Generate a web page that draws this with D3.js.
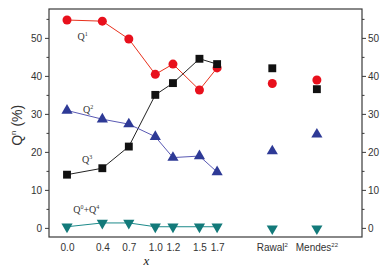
<!DOCTYPE html>
<html>
<head>
<meta charset="utf-8">
<script src="https://cdn.jsdelivr.net/npm/d3@7"></script>
<style>
  body { margin: 0; background: #fff; }
  svg { display: block; font-family: 'Liberation Sans', Arial, sans-serif; }
</style>
</head>
<body>
<div id="chart"></div>
<script>
// composition x values (lines) and literature references (separate points)
const xValues = [0.0, 0.4, 0.7, 1.0, 1.2, 1.5, 1.7];
const refNames = ['Rawal', 'Mendes'];
const refSup = ['2', '22'];
const refX = [2.325, 2.83];

// Q^n fractions (%)
const q1 = [54.7, 54.4, 49.7, 40.4, 43.1, 36.3, 42.1];
const q2 = [30.9, 28.6, 27.3, 24.0, 18.5, 18.9, 14.7];
const q3 = [14.0, 15.7, 21.4, 35.0, 38.1, 44.5, 43.1];
const q04 = [0.3, 1.3, 1.3, 0.3, 0.3, 0.3, 0.3];

const q1Ref = [38.0, 38.9];
const q2Ref = [20.2, 24.6];
const q3Ref = [42.0, 36.5];
const q04Ref = [-0.2, -0.2];

const yTicks = [0, 10, 20, 30, 40, 50];
const yMinor = [5, 15, 25, 35, 45, 55];

const W = 385, H = 273;
const margin = { top: 9, right: 23, bottom: 36, left: 49 };

const svg = d3.select('#chart').append('svg')
  .attr('width', W)
  .attr('height', H);

const x = d3.scaleLinear()
  .domain([-0.204, 3.341])
  .range([margin.left, W - margin.right]);

const y = d3.scaleLinear()
  .domain([-2.4, 57.6])
  .range([H - margin.bottom, margin.top]);

const axisColor = '#3a3a3a';

// frame
svg.append('rect')
  .attr('x', margin.left)
  .attr('y', margin.top)
  .attr('width', W - margin.left - margin.right)
  .attr('height', H - margin.top - margin.bottom)
  .attr('fill', 'none')
  .attr('stroke', axisColor)
  .attr('stroke-width', 1.2);

function styleAxis(g) {
  g.select('.domain').remove();
  g.selectAll('line').attr('stroke', axisColor);
  g.selectAll('text')
    .attr('fill', '#333')
    .style('font-size', '10px');
}

// left axis
svg.append('g')
  .attr('transform', `translate(${margin.left},0)`)
  .call(d3.axisLeft(y).tickValues(yTicks).tickSize(4).tickPadding(3))
  .call(styleAxis);
svg.append('g')
  .attr('transform', `translate(${margin.left},0)`)
  .call(d3.axisLeft(y).tickValues(yMinor).tickSize(2.5).tickFormat(''))
  .call(styleAxis);

// right axis
svg.append('g')
  .attr('transform', `translate(${W - margin.right},0)`)
  .call(d3.axisRight(y).tickValues(yTicks).tickSize(4).tickPadding(2))
  .call(styleAxis);
svg.append('g')
  .attr('transform', `translate(${W - margin.right},0)`)
  .call(d3.axisRight(y).tickValues(yMinor).tickSize(2.5).tickFormat(''))
  .call(styleAxis);

// bottom axis (labels only)
svg.append('g')
  .attr('transform', `translate(0,${H - margin.bottom})`)
  .call(d3.axisBottom(x).tickValues(xValues).tickSize(0).tickPadding(7)
    .tickFormat(d3.format('.1f')))
  .call(styleAxis);

// reference labels with superscripts
const refG = svg.append('g')
  .attr('transform', `translate(0,${H - margin.bottom})`);
refNames.forEach((name, i) => {
  const t = refG.append('text')
    .attr('x', x(refX[i]))
    .attr('y', 14)
    .attr('text-anchor', 'middle')
    .attr('fill', '#333')
    .style('font-size', '10px');
  t.append('tspan').text(name);
  t.append('tspan')
    .attr('dy', -4)
    .style('font-size', '6px')
    .text(refSup[i]);
});

// axis titles
svg.append('text')
  .attr('x', x(0.9))
  .attr('y', 265)
  .attr('text-anchor', 'middle')
  .style('font-family', "'Liberation Serif', 'Times New Roman', serif")
  .style('font-style', 'italic')
  .style('font-size', '13px')
  .attr('fill', '#222')
  .text('x');

const yt = svg.append('text')
  .attr('transform', `translate(22,${y(27)}) rotate(-90)`)
  .attr('text-anchor', 'middle')
  .attr('fill', '#333')
  .style('font-size', '14px');
yt.append('tspan').text('Q');
yt.append('tspan').attr('dy', -6).style('font-size', '8px').text('n');
yt.append('tspan').attr('dy', 6).text(' (%)');

// series
const series = [
  { vals: q1, ref: q1Ref, color: '#e8101c', line: '#e8301c', shape: 'circle' },
  { vals: q3, ref: q3Ref, color: '#111111', line: '#222222', shape: 'square' },
  { vals: q2, ref: q2Ref, color: '#2e3a96', line: '#5a5ab4', shape: 'up' },
  { vals: q04, ref: q04Ref, color: '#137a7a', line: '#1c8a8a', shape: 'down' }
];

const symbolFor = {
  circle: d3.symbol().type(d3.symbolCircle).size(64),
  square: d3.symbol().type(d3.symbolSquare).size(62),
  up: d3.symbol().type(d3.symbolTriangle).size(54),
  down: d3.symbol().type(d3.symbolTriangle).size(54)
};

const line = d3.line()
  .x(d => x(d[0]))
  .y(d => y(d[1]));

series.forEach(s => {
  const pts = xValues.map((v, i) => [v, s.vals[i]]);
  svg.append('path')
    .datum(pts)
    .attr('d', line)
    .attr('fill', 'none')
    .attr('stroke', s.line)
    .attr('stroke-width', 1);

  const all = pts.concat(refX.map((v, i) => [v, s.ref[i]]));
  svg.append('g').selectAll('path')
    .data(all)
    .join('path')
    .attr('d', symbolFor[s.shape])
    .attr('transform', d =>
      `translate(${x(d[0])},${y(d[1])})` + (s.shape === 'down' ? ' rotate(180)' : ''))
    .attr('fill', s.color);
});

// series annotations
const notes = [
  { base: 'Q', sup: '1', x: 0.12, y: 49.5 },
  { base: 'Q', sup: '2', x: 0.18, y: 30.3 },
  { base: 'Q', sup: '3', x: 0.17, y: 17.2 },
  { base: 'Q', sup: '0', tail: '+Q', sup2: '4', x: 0.07, y: 4.0 }
];
notes.forEach(n => {
  const t = svg.append('text')
    .attr('x', x(n.x))
    .attr('y', y(n.y))
    .attr('fill', '#333')
    .style('font-family', "'Liberation Serif', 'Times New Roman', serif")
    .style('font-size', '10px');
  t.append('tspan').text(n.base);
  t.append('tspan').attr('dy', -4).style('font-size', '6px').text(n.sup);
  if (n.tail) {
    t.append('tspan').attr('dy', 4).text(n.tail);
    t.append('tspan').attr('dy', -4).style('font-size', '6px').text(n.sup2);
  }
});
</script>
</body>
</html>
